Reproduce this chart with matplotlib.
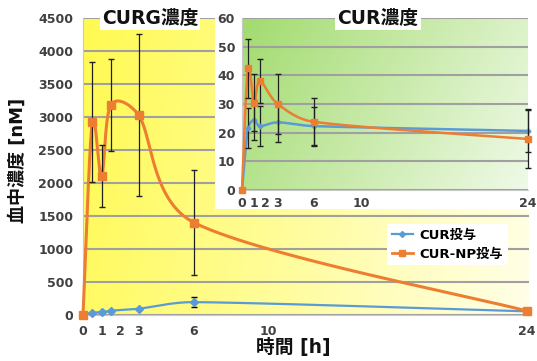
import matplotlib
matplotlib.use("Agg")
import matplotlib.pyplot as plt
import numpy as np
from matplotlib.lines import Line2D

plt.rcParams['font.family'] = ['DejaVu Sans', 'Noto Sans CJK JP']
plt.rcParams['font.weight'] = 'bold'

# data
times = [0, 0.5, 1, 1.5, 3, 6, 24]
xticks = [0, 1, 2, 3, 6, 10, 24]

# CURG concentration (main)
curg_cur = [0, 35, 42, 65, 95, 195, 55]
curg_cur_err = [0, 0, 0, 0, 0, 75, 0]
curg_np = [0, 2920, 2100, 3180, 3030, 1400, 60]
curg_np_err = [0, 910, 470, 700, 1230, 800, 0]

# CUR concentration (inset)
cur_cur = [0, 21.5, 24.5, 22.3, 23.6, 22.3, 20.6]
cur_cur_err = [0, 7, 7, 7, 7, 6.8, 7.5]
cur_np = [0, 42.5, 30.5, 38, 30, 23.8, 17.8]
cur_np_err = [0, 10.3, 10, 7.7, 10.3, 8.2, 10]

BLUE = '#5B9BD5'
ORANGE = '#ED7D31'
TICKC = '#404040'


def smooth(x, y, sx, sy, n=60, cap=0.4):
    # smoothed line like a spreadsheet's, bezier built in screen space
    p = np.column_stack([np.asarray(x, float) * sx, np.asarray(y, float) * sy])
    out = []
    for i in range(len(p) - 1):
        p0 = p[max(i - 1, 0)]
        p1 = p[i]
        p2 = p[i + 1]
        p3 = p[min(i + 2, len(p) - 1)]
        d12 = np.hypot(*(p2 - p1))
        t1 = (p2 - p0) / 6
        t2 = (p3 - p1) / 6
        for tv in (t1, t2):
            m = np.hypot(*tv)
            if m > cap * d12:
                tv *= cap * d12 / m
        c1 = p1 + t1
        c2 = p2 - t2
        t = np.linspace(0, 1, n)[:, None]
        seg = ((1 - t) ** 3) * p1 + 3 * ((1 - t) ** 2) * t * c1 + 3 * (1 - t) * t ** 2 * c2 + t ** 3 * p2
        out.append(seg)
    out = np.vstack(out)
    return out[:, 0] / sx, out[:, 1] / sy


def gradient(ax, c_start, c_end, wx=1.0, wy=0.0):
    n = 256
    xx, yy = np.meshgrid(np.linspace(0, 1, n), np.linspace(0, 1, n))
    t = (wx * xx + wy * yy) / (wx + wy)
    c0 = np.array(matplotlib.colors.to_rgb(c_start))
    c1 = np.array(matplotlib.colors.to_rgb(c_end))
    img = c0[None, None, :] * (1 - t[..., None]) + c1[None, None, :] * t[..., None]
    ax.imshow(img, extent=[0, 1, 0, 1], transform=ax.transAxes, aspect='auto',
              zorder=0, origin='upper')


W, H = 537, 361
fig = plt.figure(figsize=(W / 100, H / 100), dpi=100)

# ---- main chart ----
ax = fig.add_axes([83 / W, 46 / H, (529 - 83) / W, (315 - 18) / H])
gradient(ax, '#FFFA50', '#FFFFE8', 1.0, 0.15)
ax.set_xlim(0, 24.1)
ax.set_ylim(0, 4500)
ax.set_yticks(np.arange(0, 4501, 500))
ax.set_xticks(xticks)
ax.grid(axis='y', color='#A0A0A0', lw=1.5, zorder=1)
for s in ['top', 'right']:
    ax.spines[s].set_visible(False)
ax.spines['left'].set_color('#C8C8C8')
ax.spines['bottom'].set_color('#C8C8C8')
ax.tick_params(length=0, labelsize=9, labelcolor=TICKC, pad=7)
for lab in ax.get_xticklabels() + ax.get_yticklabels():
    lab.set_fontweight('bold')

axw, axh = 446, 297
sx, sy = axw / 24.1, axh / 4500
xs, ys = smooth(times, curg_cur, sx, sy)
ax.plot(xs, ys, color=BLUE, lw=1.6, zorder=3, clip_on=False)
ax.errorbar(times, curg_cur, yerr=curg_cur_err, fmt='D', color=BLUE, ms=4,
            ecolor='black', elinewidth=0.9, capsize=2.5, zorder=4, clip_on=False)
xs, ys = smooth(times, curg_np, sx, sy)
ax.plot(xs, ys, color=ORANGE, lw=2.2, zorder=5, clip_on=False)
ax.errorbar(times, curg_np, yerr=curg_np_err, fmt='s', color=ORANGE, ms=6,
            ecolor='#202020', elinewidth=0.9, capsize=2.5, zorder=6, clip_on=False)

fig.text(150 / W, 1 - 18 / H, 'CURG濃度', ha='center', va='center', fontsize=13.5,
         fontweight='bold', color='#111111',
         bbox=dict(facecolor='white', edgecolor='none', pad=1.5), zorder=10)

# ---- inset ----
frame = fig.add_axes([215 / W, 1 - 209 / H, (W - 215) / W, 209 / H])
frame.set_facecolor('white')
frame.set_xticks([])
frame.set_yticks([])
for s in frame.spines.values():
    s.set_visible(False)

ins = fig.add_axes([242 / W, 1 - 190 / H, (528 - 242) / W, (190 - 18) / H])
gradient(ins, '#A2DB6E', '#F0FAE8', 1.0, 0.35)
ins.set_xlim(0, 24)
ins.set_ylim(0, 60)
ins.set_yticks(np.arange(0, 61, 10))
ins.set_xticks(xticks)
ins.grid(axis='y', color='#A0A0A0', lw=1.5, zorder=1)
for s in ['top', 'right']:
    ins.spines[s].set_visible(False)
ins.spines['left'].set_color('#C8C8C8')
ins.spines['bottom'].set_color('#C8C8C8')
ins.tick_params(length=0, labelsize=9, labelcolor=TICKC, pad=5)
for lab in ins.get_xticklabels() + ins.get_yticklabels():
    lab.set_fontweight('bold')

iw, ih = 286, 172
sx, sy = iw / 24, ih / 60
xs, ys = smooth(times, cur_cur, sx, sy)
ins.plot(xs, ys, color=BLUE, lw=1.8, zorder=3, clip_on=False)
ins.errorbar(times, cur_cur, yerr=cur_cur_err, fmt='D', color=BLUE, ms=2.5,
             ecolor='#202020', elinewidth=0.9, capsize=2.2, zorder=4, clip_on=False)
xs, ys = smooth(times, cur_np, sx, sy)
ins.plot(xs, ys, color=ORANGE, lw=1.8, zorder=5, clip_on=False)
ins.errorbar(times, cur_np, yerr=cur_np_err, fmt='s', color=ORANGE, ms=4.5,
             ecolor='#202020', elinewidth=0.9, capsize=2.2, zorder=6, clip_on=False)

fig.text(378 / W, 1 - 18 / H, 'CUR濃度', ha='center', va='center', fontsize=13.5,
         fontweight='bold', color='#111111',
         bbox=dict(facecolor='white', edgecolor='none', pad=1.5), zorder=10)

# ---- labels & legend ----
fig.text(18 / W, 1 - 160 / H, '血中濃度 [nM]', rotation=90, ha='center', va='center',
         fontsize=13, fontweight='bold', color='#111111')
fig.text(293 / W, 1 - 347 / H, '時間 [h]', ha='center', va='center',
         fontsize=13.5, fontweight='bold', color='#111111')

handles = [Line2D([], [], color=BLUE, lw=1.6, marker='D', ms=3),
           Line2D([], [], color=ORANGE, lw=2, marker='s', ms=4.5)]
leg = fig.legend(handles, ['CUR投与', 'CUR-NP投与'], loc='upper left',
                 bbox_to_anchor=(387 / W, 1 - 224 / H), frameon=True, fancybox=False,
                 prop={'weight': 'bold', 'size': 9.5}, handlelength=1.6,
                 borderpad=0.35, labelspacing=0.45, handletextpad=0.5,
                 borderaxespad=0)
leg.get_frame().set_facecolor('white')
leg.get_frame().set_edgecolor('none')
leg.get_frame().set_alpha(1)

plt.savefig('out.png', dpi=100)
